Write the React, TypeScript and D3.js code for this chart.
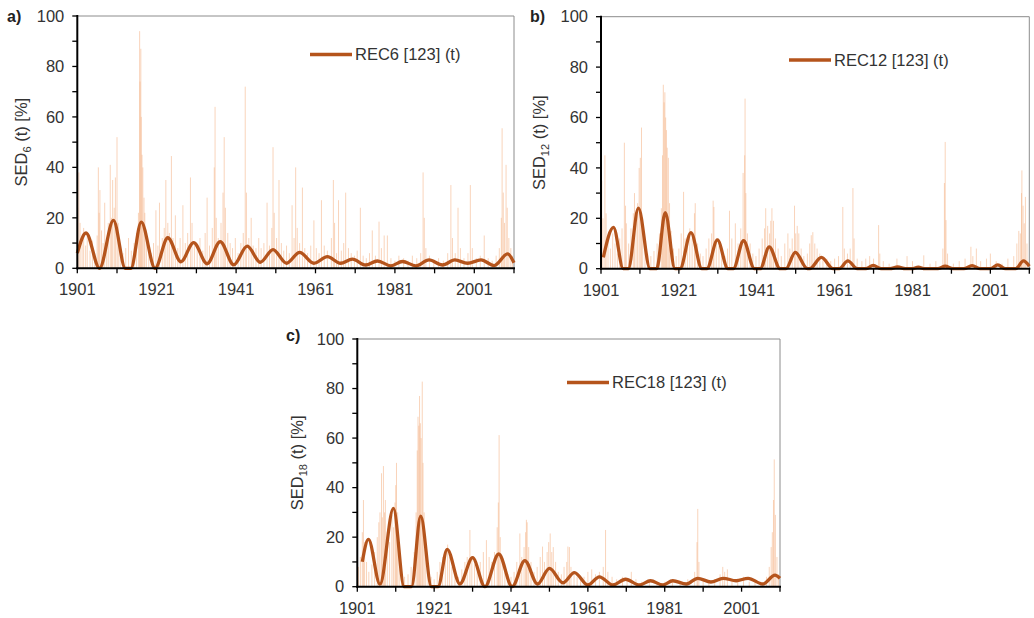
import * as d3 from "d3";

// x-axis labels / y-axis labels
const yearLabels = [1901, 1921, 1941, 1961, 1981, 2001];
const valueLabels = [0, 20, 40, 60, 80, 100];

// monthly SED spikes [year, %]
const sedA: [number, number][] = [
  [1901.1, 24], [1901.4, 38], [1901.7, 18], [1902.2, 12], [1902.6, 16], [1903.1, 9], [1903.5, 14], [1904.2, 7],
  [1904.8, 11], [1905.4, 6], [1906.0, 13], [1906.3, 40], [1906.5, 22], [1906.7, 31], [1907.1, 15], [1907.5, 10],
  [1907.9, 26], [1908.4, 12], [1908.8, 18], [1909.3, 41], [1909.6, 20], [1909.9, 35], [1910.3, 24], [1910.6, 36],
  [1911.0, 52], [1911.3, 18], [1911.8, 9], [1912.5, 6], [1913.2, 8], [1913.9, 12], [1914.6, 7], [1915.3, 10],
  [1915.9, 14], [1916.4, 22], [1916.7, 94], [1916.8, 74], [1917.0, 87], [1917.1, 60], [1917.3, 45], [1917.5, 40],
  [1917.8, 28], [1918.0, 22], [1918.4, 15], [1919.0, 8], [1919.6, 6], [1920.2, 10], [1920.8, 23], [1921.3, 9],
  [1921.7, 26], [1922.4, 12], [1922.9, 16], [1923.3, 35], [1923.8, 18], [1924.2, 14], [1924.7, 44.5], [1925.1, 12],
  [1925.7, 21], [1926.3, 8], [1926.9, 12], [1927.6, 25], [1928.2, 10], [1928.8, 14], [1929.5, 36], [1929.9, 18],
  [1930.5, 10], [1931.2, 8], [1931.9, 12], [1932.6, 7], [1933.2, 14], [1933.7, 28], [1934.3, 9], [1935.0, 16],
  [1935.5, 40], [1935.7, 64], [1936.0, 20], [1936.5, 12], [1937.2, 18], [1937.7, 30], [1938.0, 52], [1938.3, 24],
  [1938.9, 14], [1939.5, 10], [1940.1, 8], [1940.8, 12], [1941.5, 6], [1942.2, 10], [1942.8, 14], [1943.3, 72],
  [1943.6, 30], [1944.2, 12], [1944.8, 20], [1945.3, 9], [1946.0, 8], [1946.7, 12], [1947.3, 8], [1948.0, 10],
  [1948.8, 26], [1949.4, 9], [1950.0, 16], [1950.3, 48], [1950.6, 22], [1951.2, 12], [1951.8, 35], [1952.4, 10],
  [1953.0, 7], [1953.7, 9], [1954.4, 6], [1955.1, 25], [1955.6, 12], [1956.0, 40], [1956.4, 16], [1957.0, 10],
  [1957.7, 32], [1958.3, 8], [1959.0, 6], [1959.8, 9], [1960.6, 19], [1961.2, 8], [1961.9, 6], [1962.5, 27],
  [1963.2, 9], [1964.0, 7], [1965.0, 12], [1965.5, 35], [1965.8, 18], [1966.3, 6], [1966.8, 27], [1967.5, 7],
  [1968.1, 10], [1968.6, 30], [1969.3, 8], [1970.0, 6], [1970.8, 5], [1971.5, 7], [1972.3, 24], [1973.0, 5],
  [1973.8, 4], [1974.6, 6], [1975.3, 15], [1976.1, 5], [1977.0, 18.5], [1977.6, 8], [1978.3, 13], [1979.1, 13],
  [1980.0, 4], [1981.0, 3], [1982.0, 5], [1983.2, 4], [1984.3, 3], [1985.4, 5], [1986.5, 4], [1987.5, 6],
  [1988.1, 38], [1988.4, 20], [1988.8, 8], [1989.7, 5], [1990.8, 3], [1992.0, 4], [1993.2, 3], [1994.3, 6],
  [1995.1, 33], [1995.5, 12], [1996.2, 6], [1996.9, 24], [1997.5, 8], [1998.4, 4], [1999.4, 6], [2000.0, 33],
  [2000.5, 8], [2001.5, 4], [2002.5, 5], [2003.5, 13], [2004.5, 4], [2005.5, 3], [2006.5, 5], [2007.3, 8],
  [2007.8, 20], [2008.0, 55.5], [2008.3, 30], [2008.6, 18], [2009.0, 41], [2009.3, 24], [2009.7, 12], [2010.2, 8],
  [2010.6, 5],
];

const sedB: [number, number][] = [
  [1901.2, 35], [1901.5, 20], [1902.0, 45], [1902.3, 22], [1902.8, 12], [1903.4, 8], [1904.0, 14], [1904.6, 10],
  [1905.2, 6], [1905.8, 12], [1906.4, 16], [1907.0, 50], [1907.3, 25], [1907.5, 18], [1908.1, 10], [1908.7, 16],
  [1909.3, 22], [1909.6, 30], [1910.0, 18], [1910.4, 26], [1910.8, 40], [1911.1, 44], [1911.4, 56], [1911.7, 20],
  [1912.3, 8], [1913.0, 6], [1913.8, 5], [1914.6, 7], [1915.4, 10], [1916.0, 14], [1916.5, 24], [1916.8, 45],
  [1917.0, 73], [1917.2, 66], [1917.4, 70], [1917.6, 60], [1917.8, 55], [1918.0, 48], [1918.3, 44], [1918.6, 26],
  [1919.0, 15], [1919.6, 8], [1920.3, 5], [1921.0, 8], [1921.6, 14], [1922.2, 30.5], [1922.6, 12], [1923.2, 10],
  [1923.8, 16], [1924.4, 12], [1925.0, 22], [1925.2, 26], [1925.8, 10], [1926.5, 6], [1927.2, 5], [1928.0, 8],
  [1928.7, 12], [1929.4, 14], [1929.8, 27], [1930.0, 24.5], [1930.6, 12], [1931.3, 9], [1932.0, 7], [1932.8, 5],
  [1933.5, 8], [1934.0, 23], [1934.6, 12], [1935.5, 18], [1936.2, 10], [1936.9, 16], [1937.5, 38], [1937.9, 45],
  [1938.0, 67.5], [1938.2, 30], [1938.6, 14], [1939.3, 10], [1940.0, 6], [1940.8, 5], [1941.6, 8], [1942.4, 12],
  [1943.0, 16], [1943.3, 24], [1943.8, 17], [1944.3, 14], [1944.6, 19], [1944.9, 24], [1945.3, 19], [1945.8, 12],
  [1946.5, 8], [1947.3, 5], [1948.2, 10], [1949.0, 14], [1949.5, 8], [1950.1, 12], [1950.7, 25], [1951.0, 14],
  [1951.4, 17], [1951.8, 14], [1952.4, 8], [1953.1, 5], [1954.0, 6], [1954.6, 10], [1955.0, 13.3], [1955.4, 14.5],
  [1955.9, 10], [1956.5, 8], [1957.2, 6], [1958.0, 5], [1959.0, 4], [1960.0, 3], [1961.0, 4], [1962.0, 5],
  [1963.1, 24.5], [1963.5, 8], [1964.3, 6], [1965.0, 8], [1965.7, 32], [1966.0, 12], [1966.8, 4], [1968.0, 3],
  [1969.0, 4], [1970.0, 5], [1971.0, 4], [1972.3, 17.3], [1972.6, 6], [1973.5, 3], [1975.0, 2], [1977.0, 4],
  [1979.6, 5], [1981.0, 3], [1983.9, 5.3], [1985.5, 2], [1987.0, 3], [1988.8, 8], [1989.2, 34], [1989.4, 50.3],
  [1989.6, 19.3], [1990.0, 6], [1991.5, 2], [1993.0, 3], [1994.5, 4], [1996.0, 8.7], [1996.5, 5], [1997.4, 8],
  [1998.5, 3], [2000.0, 4], [2001.0, 6], [2002.5, 3], [2004.0, 2], [2005.5, 4], [2007.0, 5], [2007.8, 10],
  [2008.3, 15], [2008.7, 14], [2009.0, 30], [2009.1, 39], [2009.4, 25], [2009.7, 18], [2010.0, 28.5], [2010.4, 10],
];

const sedC: [number, number][] = [
  [1901.3, 8], [1901.8, 12], [1902.3, 22], [1902.6, 35], [1902.9, 18], [1903.4, 10], [1904.0, 6], [1904.8, 9],
  [1905.5, 14], [1906.2, 20], [1906.6, 26], [1906.9, 30], [1907.3, 45.8], [1907.5, 28], [1907.8, 48.7], [1908.1, 30],
  [1908.3, 35], [1908.8, 22], [1909.4, 18], [1910.0, 29], [1910.4, 24], [1910.8, 34], [1911.0, 41], [1911.2, 50],
  [1911.5, 30], [1911.9, 14], [1912.5, 6], [1913.3, 4], [1914.2, 5], [1915.0, 8], [1915.8, 14], [1916.3, 30],
  [1916.6, 55], [1916.8, 68.6], [1917.0, 65], [1917.2, 77], [1917.4, 66], [1917.6, 60], [1917.9, 82.8], [1918.1, 50],
  [1918.4, 30], [1918.8, 16], [1919.4, 8], [1920.2, 4], [1921.0, 3], [1921.8, 6], [1922.5, 10], [1923.2, 12],
  [1923.9, 14], [1924.5, 17], [1925.0, 12], [1925.6, 8], [1926.4, 5], [1927.3, 4], [1928.2, 7], [1929.0, 10],
  [1929.6, 12], [1930.3, 22.9], [1930.8, 12], [1931.5, 9], [1932.2, 6], [1933.0, 10], [1933.8, 14], [1934.6, 18.8],
  [1935.3, 12], [1936.0, 10], [1936.7, 14], [1937.4, 24], [1937.7, 34], [1937.9, 61.2], [1938.2, 20], [1938.7, 12],
  [1939.4, 8], [1940.2, 5], [1941.0, 4], [1941.8, 6], [1942.5, 10], [1943.3, 21.5], [1943.8, 12], [1944.4, 16],
  [1944.8, 22], [1945.0, 27], [1945.2, 26], [1945.6, 16], [1946.2, 10], [1947.0, 6], [1947.8, 8], [1948.6, 12],
  [1949.2, 16.2], [1949.7, 10], [1950.4, 14], [1950.8, 18], [1951.2, 21.5], [1951.6, 14], [1952.0, 16], [1952.6, 10],
  [1953.3, 6], [1954.1, 5], [1954.8, 8], [1955.5, 10], [1955.8, 16.2], [1956.2, 16], [1956.6, 8], [1957.4, 5],
  [1958.2, 4], [1959.1, 3], [1960.0, 4], [1961.0, 6], [1962.0, 7], [1963.0, 5], [1964.0, 6], [1965.0, 8],
  [1965.6, 22.9], [1966.2, 6], [1967.3, 4], [1968.5, 3], [1970.0, 4], [1971.2, 3], [1972.3, 6], [1973.5, 3],
  [1975.0, 2], [1977.0, 3], [1979.0, 2], [1981.0, 2], [1983.0, 3], [1985.0, 2], [1987.0, 3], [1988.8, 6],
  [1989.4, 18], [1989.6, 31.4], [1989.9, 10], [1991.0, 3], [1992.5, 2], [1994.0, 3], [1995.4, 5], [1996.1, 8],
  [1996.6, 6], [1997.3, 7], [1998.5, 3], [2000.0, 2], [2001.5, 4], [2003.0, 2], [2004.5, 3], [2006.0, 2],
  [2007.5, 4], [2008.2, 8], [2008.7, 16], [2009.0, 22], [2009.3, 35], [2009.5, 51.4], [2009.8, 29], [2010.2, 12],
  [2010.6, 5],
];

// REC reconstruction curves: turning points [year, %]
const recA: [number, number][] = [
  [1901, 6], [1903.2, 14], [1906.6, 0], [1910.1, 19], [1913.1, 0], [1914.5, 0], [1917.1, 18.3], [1920.6, 0],
  [1923.8, 12.1], [1927.1, 2.6], [1930.3, 10.2], [1933.7, 1.8], [1937.0, 10.6], [1940.4, 1.4], [1943.8, 8.8],
  [1947.1, 2.4], [1950.3, 7.4], [1953.7, 2.0], [1957.0, 6.3], [1960.6, 2.0], [1964.0, 4.6], [1967.3, 2.0],
  [1970.3, 3.6], [1973.6, 1.3], [1976.6, 2.9], [1980.0, 1.0], [1982.9, 2.7], [1986.3, 1.0], [1989.6, 3.3],
  [1993.0, 1.3], [1996.1, 3.3], [1999.3, 2.0], [2002.7, 3.3], [2006.0, 1.1], [2009.4, 5.7], [2011, 2.2],
];

const recB: [number, number][] = [
  [1901.6, 4.5], [1904.2, 16.4], [1906.7, 0], [1908.0, 0], [1910.6, 24], [1913.6, 0], [1915.3, 0], [1917.5, 22.2],
  [1920.0, 0], [1921.3, 0], [1924.1, 14.3], [1926.9, 0], [1928.2, 0], [1930.9, 11.4], [1933.6, 0], [1935.0, 0],
  [1937.6, 11.1], [1940.4, 0], [1941.9, 0], [1944.2, 8.7], [1947.0, 0], [1948.5, 0], [1950.9, 6.5], [1954.0, 0],
  [1954.6, 0], [1957.6, 4.5], [1960.6, 0], [1962.2, 0], [1964.4, 3.1], [1966.8, 0], [1969.0, 0], [1970.9, 1.3],
  [1973.0, 0], [1975.2, 0], [1977.2, 0.7], [1979.2, 0], [1980.8, 0], [1982.5, 0.6], [1984.2, 0], [1987.5, 0],
  [1989.4, 1.0], [1991.4, 0], [1994.2, 0], [1996.3, 1.2], [1998.4, 0], [2001.0, 0], [2002.9, 1.5], [2004.9, 0],
  [2007.5, 0], [2009.5, 3.1], [2011, 1.0],
];

const recC: [number, number][] = [
  [1902.3, 10.1], [1903.9, 19.1], [1906.9, 1.0], [1910.4, 31.6], [1913.2, 0], [1915.1, 0], [1917.5, 28.5],
  [1920.3, 0], [1922.0, 0], [1924.4, 15.1], [1927.7, 1.1], [1931.0, 11.7], [1934.2, 0], [1937.8, 13.2],
  [1941.3, 0], [1944.6, 10.5], [1947.9, 1.1], [1951.0, 7.4], [1954.5, 1.6], [1957.5, 5.7], [1961.0, 0.7],
  [1964.0, 4.0], [1967.5, 0.7], [1970.8, 3.0], [1974.4, 0.7], [1977.3, 2.4], [1980.5, 0.7], [1983.1, 2.4],
  [1986.6, 1.1], [1989.6, 3.4], [1993.0, 1.9], [1996.2, 3.4], [1999.6, 2.4], [2002.7, 3.4], [2006.5, 1.1],
  [2009.7, 4.7], [2011, 3.4],
];

const FONT = "'Liberation Sans', Arial, sans-serif";
const TEXT = "#333";
const LINE = "#b5541c";
const BAR = "#f4b183";

const panels = [
  { tag: "a)", sub: "6", legend: "REC6 [123] (t)", sed: sedA, rec: recA,
    left: 77.3, right: 514, top: 16, bottom: 268.3, tagX: 7, tagY: 22, ylabX: 27, legX: 310, legY: 54.5 },
  { tag: "b)", sub: "12", legend: "REC12 [123] (t)", sed: sedB, rec: recB,
    left: 601, right: 1029.3, top: 16.7, bottom: 268.7, tagX: 530, tagY: 22, ylabX: 545, legX: 789, legY: 60 },
  { tag: "c)", sub: "18", legend: "REC18 [123] (t)", sed: sedC, rec: recC,
    left: 357.3, right: 780, top: 339, bottom: 586.7, tagX: 286, tagY: 341, ylabX: 303, legX: 567, legY: 382.5 },
];

const Panel = ({ p }: { p: any }) => {
  const x = d3.scaleLinear().domain([1901, 2011]).range([p.left, p.right]);
  const y = d3.scaleLinear().domain([0, 100]).range([p.bottom, p.top]);
  const line = d3.line<[number, number]>()
    .x(d => x(d[0]))
    .y(d => y(d[1]))
    .curve(d3.curveMonotoneX);
  const xTicks = d3.range(1901, 2012, 10);
  const yTicks = d3.range(0, 101, 10);
  const midY = (p.top + p.bottom) / 2;

  return (
    <g>
      {/* frame top/right */}
      <path d={`M${p.left},${p.top}H${p.right}V${p.bottom}`} fill="none" stroke="#8c8c8c" strokeWidth={1} />

      {p.sed.map((d: [number, number], i: number) => (
        <rect key={i} x={x(d[0]) - 0.5} width={1} y={y(d[1])} height={y(0) - y(d[1])}
          fill={BAR} opacity={0.55} />
      ))}

      <path d={line(p.rec) || ""} fill="none" stroke={LINE} strokeWidth={3.3} strokeLinejoin="round" />

      {/* axes */}
      <line x1={p.left} x2={p.left} y1={p.top - 1} y2={p.bottom + 1} stroke="#000" strokeWidth={2} />
      <line x1={p.left - 1} x2={p.right + 1} y1={p.bottom} y2={p.bottom} stroke="#000" strokeWidth={2} />
      {yTicks.map(t => (
        <line key={t} x1={p.left - 5} x2={p.left} y1={y(t)} y2={y(t)} stroke="#000" strokeWidth={1.3} />
      ))}
      {xTicks.map(t => (
        <line key={t} x1={x(t)} x2={x(t)} y1={p.bottom} y2={p.bottom + 5} stroke="#000" strokeWidth={1.3} />
      ))}
      {valueLabels.map(t => (
        <text key={t} x={p.left - 13} y={y(t)} dy="0.35em" textAnchor="end" fontSize={16.5}
          fill={TEXT} fontFamily={FONT}>{t}</text>
      ))}
      {yearLabels.map(t => (
        <text key={t} x={x(t)} y={p.bottom + 27} textAnchor="middle" fontSize={16.5}
          fill={TEXT} fontFamily={FONT}>{t}</text>
      ))}

      <text transform={`translate(${p.ylabX},${midY}) rotate(-90)`} textAnchor="middle"
        fontSize={16.5} fill={TEXT} fontFamily={FONT}>
        SED<tspan fontSize={11} dy={4}>{p.sub}</tspan><tspan dy={-4}> (t) [%]</tspan>
      </text>

      <text x={p.tagX} y={p.tagY} fontSize={16} fontWeight="bold" fill="#222" fontFamily={FONT}>{p.tag}</text>

      <line x1={p.legX} x2={p.legX + 42} y1={p.legY} y2={p.legY} stroke={LINE} strokeWidth={3.3} />
      <text x={p.legX + 45} y={p.legY} dy="0.36em" fontSize={16.5} fill={TEXT} fontFamily={FONT}>{p.legend}</text>
    </g>
  );
};

export default function App() {
  return (
    <svg width={1034} height={618} style={{ position: "absolute", left: 0, top: 0, background: "#fff" }}>
      {panels.map(p => <Panel key={p.tag} p={p} />)}
    </svg>
  );
}
